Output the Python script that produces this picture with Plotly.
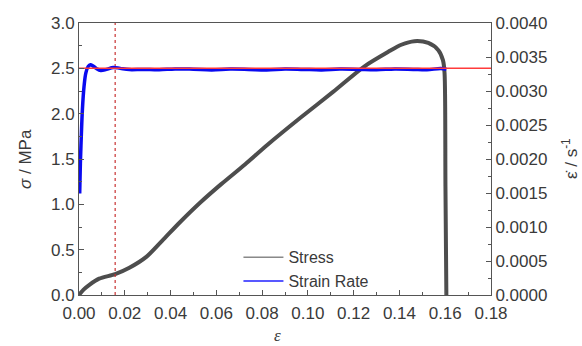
import plotly.graph_objects as go

# Stress curve (strain, stress in MPa)
stress_eps = [0.0, 0.002, 0.0044, 0.0088, 0.0158, 0.022, 0.0294, 0.0364, 0.044, 0.053,
              0.062, 0.0725, 0.0825, 0.097, 0.111, 0.1246, 0.135, 0.1408,
              0.1465, 0.1526, 0.157, 0.159, 0.1597, 0.1601, 0.1605]
stress_val = [0.0, 0.06, 0.11, 0.18, 0.23, 0.30, 0.42, 0.60, 0.80, 1.02,
              1.22, 1.44, 1.66, 1.96, 2.24, 2.52, 2.68, 2.76,
              2.80, 2.78, 2.70, 2.59, 2.45, 1.20, 0.0]

# Strain rate curve (strain, strain rate in 1/s)
rate_eps = [0.0003, 0.0006, 0.0010, 0.0015, 0.0022, 0.0030, 0.0040, 0.0050, 0.0060,
            0.0075, 0.0095, 0.0120, 0.0150, 0.0180, 0.022, 0.028, 0.035, 0.042,
            0.050, 0.058, 0.066, 0.074, 0.082, 0.090, 0.098, 0.106, 0.114, 0.122,
            0.130, 0.138, 0.146, 0.152, 0.158, 0.1605]
rate_val = [0.001493, 0.001933, 0.002333, 0.002733, 0.003067, 0.003267, 0.003360, 0.003387,
            0.003373, 0.003333, 0.003300, 0.003318, 0.003347, 0.003333, 0.003315, 0.003318,
            0.003312, 0.003325, 0.003320, 0.003310, 0.003322, 0.003318, 0.003310, 0.003325,
            0.003318, 0.003310, 0.003322, 0.003318, 0.003312, 0.003325, 0.003318, 0.003312,
            0.003330, 0.003320]

# Reference (nominal) strain rate line and marked strain
ref_eps = [0.0, 0.18]
ref_rate = [0.003333, 0.003333]
mark_eps = [0.0158, 0.0158]
mark_sig = [0.0, 3.0]

x_title = "<i>ε</i>"
y_title = "<i>σ</i> / MPa"
y2_title = "ε̇ / s<sup>-1</sup>"

axis_col = "#555555"
text_col = "#3a3a3a"
font_fam = "Liberation Sans, Arial, sans-serif"

fig = go.Figure()

fig.add_trace(go.Scatter(x=stress_eps, y=stress_val, mode="lines",
                         line=dict(color="#4d4d4d", width=4, shape="spline", smoothing=0.8),
                         showlegend=False, yaxis="y"))
fig.add_trace(go.Scatter(x=mark_eps, y=mark_sig, mode="lines",
                         line=dict(color="#c83232", width=1.2, dash="dot"),
                         showlegend=False, yaxis="y"))
fig.add_trace(go.Scatter(x=rate_eps, y=rate_val, mode="lines",
                         line=dict(color="#0a0af0", width=3.5, shape="spline"),
                         showlegend=False, yaxis="y2"))
fig.add_trace(go.Scatter(x=ref_eps, y=ref_rate, mode="lines",
                         line=dict(color="#ff3b3b", width=1.5),
                         showlegend=False, yaxis="y2"))
# legend entries
fig.add_trace(go.Scatter(x=[None], y=[None], mode="lines", name="Stress",
                         line=dict(color="#4d4d4d", width=1)))
fig.add_trace(go.Scatter(x=[None], y=[None], mode="lines", name="Strain Rate",
                         line=dict(color="#2020ff", width=1.5)))

fig.update_layout(
    width=582, height=346,
    margin=dict(l=79, r=91, t=23, b=51),
    paper_bgcolor="white", plot_bgcolor="white",
    font=dict(family=font_fam, size=17, color=text_col),
    xaxis=dict(range=[0, 0.18], dtick=0.02, tickformat=".2f", automargin=False,
               showgrid=False, zeroline=False,
               showline=True, linecolor=axis_col, linewidth=1, mirror=True,
               ticks="inside", ticklen=5, tickcolor=axis_col,
               ticklabelstandoff=3,
               minor=dict(ticks="inside", dtick=0.01, ticklen=3, tickcolor=axis_col)),
    yaxis=dict(range=[0, 3.0], dtick=0.5, tickformat=".1f", automargin=False,
               showgrid=False, zeroline=False,
               showline=True, linecolor=axis_col, linewidth=1, mirror=True,
               ticks="inside", ticklen=5, tickcolor=axis_col,
               minor=dict(ticks="inside", dtick=0.25, ticklen=3, tickcolor=axis_col)),
    yaxis2=dict(range=[0, 0.004], dtick=0.0005, tickformat=".4f", automargin=False,
                overlaying="y", side="right",
                showgrid=False, zeroline=False,
                showline=True, linecolor=axis_col, linewidth=1,
                ticks="inside", ticklen=5, tickcolor=axis_col,
                minor=dict(ticks="inside", dtick=0.00025, ticklen=3, tickcolor=axis_col)),
    legend=dict(x=0.387, y=-0.012, xanchor="left", yanchor="bottom",
                bgcolor="rgba(0,0,0,0)", borderwidth=0,
                font=dict(size=16, color=text_col), tracegroupgap=0,
                itemwidth=40),
    annotations=[
        dict(text=x_title, xref="paper", yref="paper", x=0.483, y=-0.1875,
             xanchor="center", yanchor="bottom", showarrow=False, borderpad=0,
             font=dict(family="Liberation Serif, Times New Roman, serif", size=17, color=text_col)),
        dict(text=y_title, xref="paper", yref="paper", x=-0.131, y=0.5,
             xanchor="center", yanchor="middle", showarrow=False, textangle=-90,
             font=dict(size=17, color=text_col)),
        dict(text=y2_title, xref="paper", yref="paper", x=1.192, y=0.5,
             xanchor="center", yanchor="middle", showarrow=False, textangle=-90,
             font=dict(size=17, color=text_col)),
    ],
)

fig.write_html("out.html")
